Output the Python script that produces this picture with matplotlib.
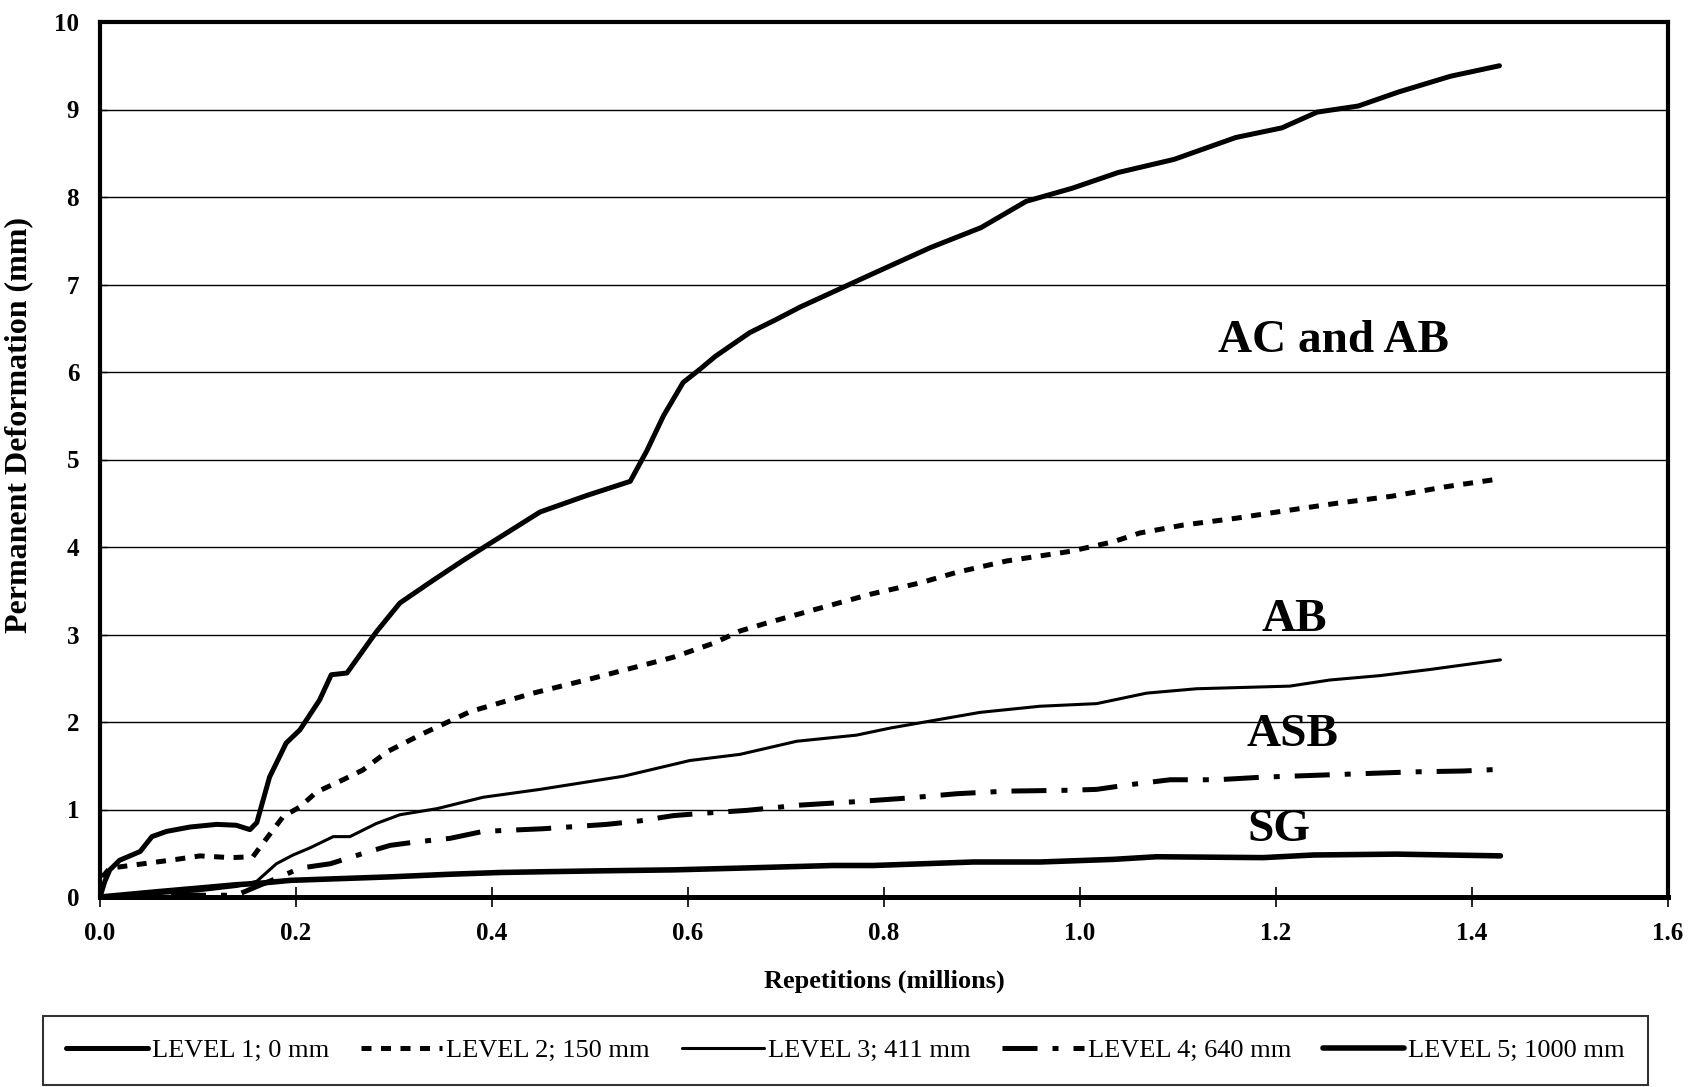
import matplotlib
matplotlib.use("Agg")
import matplotlib.pyplot as plt

plt.rcParams['font.family'] = ['Liberation Serif', 'DejaVu Serif']

# Repetitions (millions) and permanent deformation (mm) at each level
x_level1 = [0, 0.005, 0.010, 0.020, 0.041, 0.053, 0.068, 0.092, 0.119, 0.139, 0.153, 0.160,
            0.173, 0.190, 0.204, 0.224, 0.236, 0.252, 0.282, 0.306, 0.340, 0.371, 0.395,
            0.449, 0.497, 0.541, 0.558, 0.575, 0.595, 0.612, 0.628, 0.663, 0.690, 0.714,
            0.784, 0.847, 0.899, 0.945, 0.992, 1.039, 1.096, 1.159, 1.206, 1.242, 1.284,
            1.325, 1.378, 1.428]
y_level1 = [0, 0.18, 0.31, 0.42, 0.52, 0.69, 0.75, 0.80, 0.83, 0.82, 0.77, 0.85,
            1.37, 1.76, 1.91, 2.25, 2.54, 2.56, 3.03, 3.36, 3.62, 3.85, 4.02,
            4.40, 4.59, 4.75, 5.10, 5.50, 5.88, 6.03, 6.18, 6.45, 6.60, 6.74,
            7.10, 7.42, 7.65, 7.95, 8.10, 8.28, 8.43, 8.68, 8.79, 8.97, 9.04,
            9.20, 9.38, 9.50]

x_level2 = [0, 0.004, 0.010, 0.024, 0.051, 0.078, 0.102, 0.133, 0.156, 0.166, 0.187, 0.204,
            0.221, 0.248, 0.268, 0.293, 0.330, 0.378, 0.442, 0.503, 0.544, 0.585, 0.626,
            0.653, 0.680, 0.731, 0.786, 0.837, 0.874, 0.925, 0.990, 1.034, 1.061, 1.105,
            1.160, 1.207, 1.262, 1.318, 1.374, 1.429]
y_level2 = [0, 0.25, 0.33, 0.35, 0.39, 0.43, 0.47, 0.45, 0.46, 0.61, 0.92, 1.03,
            1.20, 1.34, 1.45, 1.66, 1.87, 2.12, 2.33, 2.50, 2.62, 2.74, 2.90,
            3.04, 3.13, 3.29, 3.46, 3.59, 3.71, 3.84, 3.95, 4.06, 4.16, 4.25,
            4.33, 4.41, 4.50, 4.58, 4.69, 4.78]

x_level3 = [0, 0.05, 0.10, 0.139, 0.160, 0.180, 0.197, 0.214, 0.238, 0.255, 0.282, 0.306,
            0.344, 0.391, 0.449, 0.534, 0.602, 0.653, 0.711, 0.772, 0.806, 0.857, 0.898,
            0.959, 1.017, 1.068, 1.119, 1.214, 1.255, 1.306, 1.357, 1.429]
y_level3 = [0, 0.03, 0.07, 0.12, 0.18, 0.38, 0.48, 0.56, 0.69, 0.69, 0.84, 0.94,
            1.01, 1.14, 1.23, 1.38, 1.56, 1.63, 1.78, 1.85, 1.93, 2.03, 2.11,
            2.18, 2.21, 2.33, 2.38, 2.41, 2.48, 2.53, 2.60, 2.71]

x_level4 = [0, 0.08, 0.139, 0.160, 0.184, 0.204, 0.235, 0.269, 0.296, 0.323, 0.357, 0.391,
            0.452, 0.517, 0.551, 0.585, 0.619, 0.660, 0.714, 0.772, 0.823, 0.874, 0.925,
            0.990, 1.017, 1.048, 1.092, 1.140, 1.187, 1.238, 1.289, 1.340, 1.391, 1.430]
y_level4 = [0, 0.02, 0.02, 0.12, 0.23, 0.33, 0.38, 0.50, 0.59, 0.63, 0.67, 0.75,
            0.78, 0.83, 0.87, 0.93, 0.96, 0.99, 1.05, 1.09, 1.13, 1.18, 1.21,
            1.22, 1.23, 1.28, 1.34, 1.34, 1.37, 1.39, 1.41, 1.43, 1.44, 1.46]

x_level5 = [0, 0.058, 0.109, 0.139, 0.166, 0.194, 0.245, 0.296, 0.357, 0.408, 0.459, 0.517,
            0.585, 0.653, 0.748, 0.789, 0.891, 0.959, 1.034, 1.078, 1.187, 1.238, 1.323,
            1.429]
y_level5 = [0, 0.06, 0.11, 0.14, 0.16, 0.19, 0.21, 0.23, 0.26, 0.28, 0.29, 0.30,
            0.31, 0.33, 0.36, 0.36, 0.40, 0.40, 0.43, 0.46, 0.45, 0.48, 0.49,
            0.47]

series_labels = ["LEVEL 1; 0 mm", "LEVEL 2; 150 mm", "LEVEL 3; 411 mm",
                 "LEVEL 4; 640 mm", "LEVEL 5; 1000 mm"]
layer_names = ["AC and AB", "AB", "ASB", "SG"]
layer_pos = [(1.259, 6.35), (1.219, 3.17), (1.217, 1.85), (1.203, 0.77)]

x_ticks = [0.0, 0.2, 0.4, 0.6, 0.8, 1.0, 1.2, 1.4, 1.6]
y_ticks = [0, 1, 2, 3, 4, 5, 6, 7, 8, 9, 10]

fig = plt.figure(figsize=(16.92, 10.87), dpi=100)
ax = fig.add_axes([100 / 1692, 1 - 897 / 1087, 1568 / 1692, 875 / 1087])

ax.set_xlim(0, 1.6)
ax.set_ylim(0, 10)

# horizontal grid at each millimetre
for yv in y_ticks[1:-1]:
    ax.axhline(yv, color="black", lw=1.0, zorder=1)

styles = [
    dict(color="black", lw=3.6, ls="-"),
    dict(color="black", lw=3.6, ls=(0, (2.0, 1.9))),
    dict(color="black", lw=2.2, ls="-"),
    dict(color="black", lw=3.6, ls=(0, (7, 3, 1.2, 3))),
    dict(color="black", lw=4.0, ls="-"),
]
data = [(x_level1, y_level1), (x_level2, y_level2), (x_level3, y_level3),
        (x_level4, y_level4), (x_level5, y_level5)]

handles = []
for (xs, ys), st, lab in zip(data, styles, series_labels):
    h, = ax.plot(xs, ys, label=lab, zorder=3, solid_capstyle="round",
                 solid_joinstyle="round", **st)
    handles.append(h)

for name, (xp, yp) in zip(layer_names, layer_pos):
    ax.text(xp, yp, name, ha="center", va="center", fontsize=34,
            fontweight="bold", zorder=4)

ax.set_xticks(x_ticks)
ax.set_xticklabels([f"{v:.1f}" for v in x_ticks])
ax.set_yticks(y_ticks)
ax.set_yticklabels([str(v) for v in y_ticks])
ax.tick_params(axis="x", direction="inout", length=14, width=1.2, pad=11,
               labelsize=18)
ax.tick_params(axis="y", direction="in", length=5, width=1.0, pad=15,
               labelsize=18)
for lbl in ax.get_xticklabels() + ax.get_yticklabels():
    lbl.set_fontweight("bold")

for side in ["left", "top", "right"]:
    ax.spines[side].set_linewidth(3.0)
ax.spines["bottom"].set_linewidth(3.6)

ax.set_xlabel("Repetitions (millions)", fontsize=19, fontweight="bold")
ax.xaxis.set_label_coords(0.5, -0.083)
ax.set_ylabel("Permanent Deformation (mm)", fontsize=23, fontweight="bold")
ax.yaxis.set_label_coords(-0.0427, 0.539)

leg = fig.legend(handles=handles, labels=series_labels, loc="lower left",
                 bbox_to_anchor=(43 / 1692, 2 / 1087, 1605 / 1692, 71 / 1087),
                 mode="expand", ncol=5, borderaxespad=0, fontsize=19,
                 handlelength=3.1, handletextpad=0.15, frameon=True,
                 fancybox=False, edgecolor="black", borderpad=0.87)
leg.get_frame().set_linewidth(1.5)

fig.savefig("out.png", dpi=100, facecolor="white")
